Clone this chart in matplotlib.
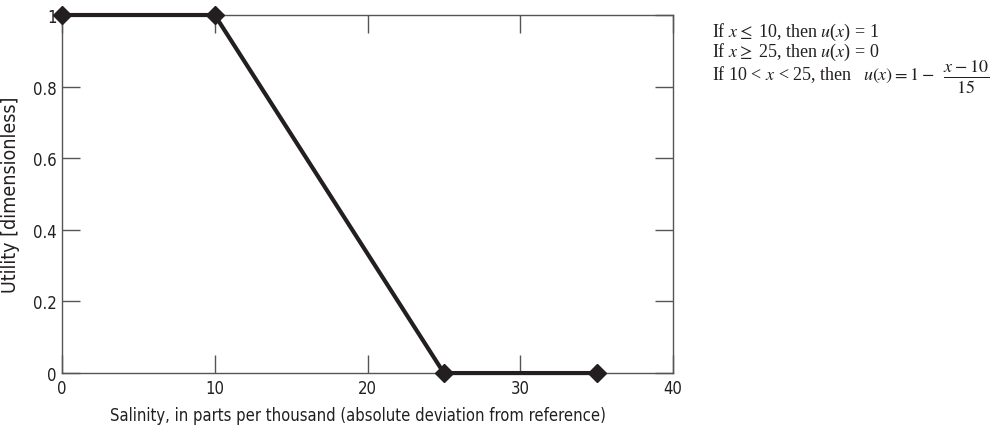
import matplotlib.pyplot as plt

salinity = [0, 10, 25, 35]
utility = [1, 1, 0, 0]
xticks = [0, 10, 20, 30, 40]
yticks = [0, 0.2, 0.4, 0.6, 0.8, 1]
ytick_labels = ['0', '0.2', '0.4', '0.6', '0.8', '1']

ink = '#231f20'
plt.rcParams['mathtext.fontset'] = 'stix'

fig = plt.figure(figsize=(9.91, 4.27), dpi=100)
ax = fig.add_axes([0.0626, 0.124, 0.6165, 0.8385])

ax.plot(salinity, utility, color=ink, lw=3, marker='D', ms=9.5,
        mfc=ink, mec=ink, clip_on=False, zorder=5)

ax.set_xlim(0, 40)
ax.set_ylim(0, 1)
ax.set_xticks(xticks)
ax.set_yticks(yticks)
ax.set_yticklabels(ytick_labels)
ax.tick_params(direction='in', length=13, width=1, color='#555555',
               top=True, right=True, labelsize=12, pad=4)
for lab in ax.get_xticklabels() + ax.get_yticklabels():
    lab.set_family('DejaVu Sans')
    lab.set_stretch('condensed')
    lab.set_color(ink)
for s in ax.spines.values():
    s.set_color('#555555')
    s.set_linewidth(1)

ax.set_xlabel('Salinity, in parts per thousand (absolute deviation from reference)',
              family='DejaVu Sans', stretch='condensed', fontsize=11.9,
              color=ink)
ax.xaxis.set_label_coords(0.485, -0.093)
ax.set_ylabel('Utility [dimensionless]', family='DejaVu Sans',
              stretch='condensed', fontsize=14, color=ink, labelpad=9)

# piecewise definition of the utility curve
serif = dict(family='Liberation Serif', fontsize=13, color=ink, va='baseline')
fig.text(0.718, 0.913, r'If $x \leq$ 10, then $u$($x$) = 1', **serif)
fig.text(0.718, 0.866, r'If $x \geq$ 25, then $u$($x$) = 0', **serif)
fig.text(0.718, 0.8126, 'If 10 < $x$ < 25, then', **serif)
fig.text(0.8708, 0.8126, r'$u\left(x\right)=1-$', **serif)
fig.text(0.9516, 0.8197, r'$\frac{x-10}{15}$', family='Liberation Serif',
         fontsize=18.5, color=ink, va='center')

fig.savefig('out.png', dpi=100)
